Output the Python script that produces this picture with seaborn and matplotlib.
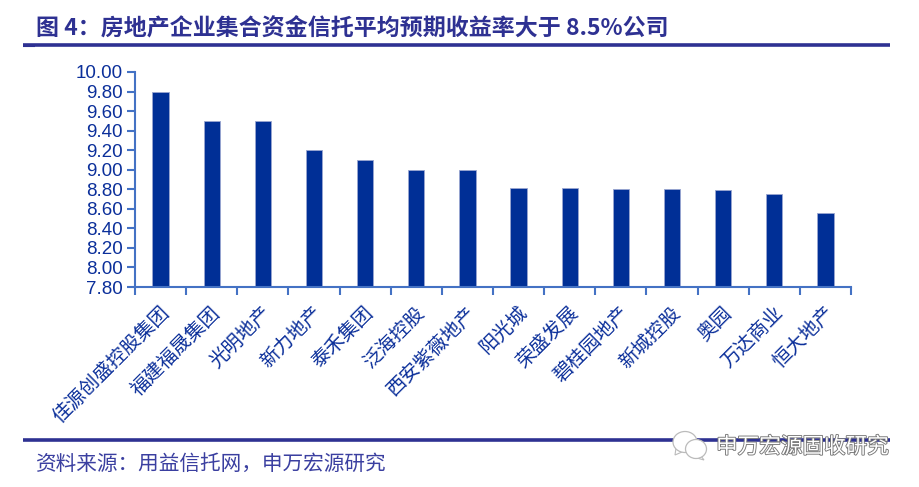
import matplotlib
matplotlib.use('Agg')
import matplotlib.pyplot as plt
import matplotlib.patheffects as pe
from matplotlib.patches import Ellipse, Polygon
from matplotlib.transforms import ScaledTranslation
import pandas as pd
import seaborn as sns

companies = ['佳源创盛控股集团', '福建福晟集团', '光明地产', '新力地产', '泰禾集团', '泛海控股', '西安紫薇地产',
             '阳光城', '荣盛发展', '碧桂园地产', '新城控股', '奥园', '万达商业', '恒大地产']
returns = [9.80, 9.50, 9.50, 9.20, 9.10, 9.00, 9.00, 8.81, 8.81, 8.80, 8.80, 8.79, 8.75, 8.56]
yticks = [7.8, 8.0, 8.2, 8.4, 8.6, 8.8, 9.0, 9.2, 9.4, 9.6, 9.8, 10.0]

title_text = '图 4：房地产企业集合资金信托平均预期收益率大于 8.5%公司'
source_text = '资料来源：用益信托网，申万宏源研究'
mark_text = '申万宏源固收研究'

sns.set_theme(style='white')
plt.rcParams['font.family'] = ['Noto Sans CJK SC', 'DejaVu Sans']

W, H = 919, 487
navy = '#2E3192'
bar_blue = '#002F96'
axis_blue = '#4472C4'
tick_blue = '#0B2F9A'

fig = plt.figure(figsize=(W / 100, H / 100), dpi=100)
ax = fig.add_axes([135 / W, 1 - 287 / H, (851 - 135) / W, (287 - 72) / H])

df = pd.DataFrame({'company': companies, 'value': returns})
sns.barplot(data=df, x='company', y='value', color=bar_blue, saturation=1, width=0.32,
            edgecolor='#9AA6D0', linewidth=0.6, ax=ax)
ax.set_xlim(-0.5, len(companies) - 0.5)
ax.set_ylim(7.8, 10.0)
ax.set_xlabel('')
ax.set_ylabel('')
ax.set_yticks(yticks)
ax.set_yticklabels([f'{v:.2f}' for v in yticks], family=['Liberation Sans'], fontsize=13.5, color=tick_blue)
ax.tick_params(axis='y', left=True, length=6, width=1.5, color=axis_blue, pad=3, direction='out')

# ticks sit between the categories, labels stay under the bars
ax.set_xticks([i - 0.5 for i in range(len(companies) + 1)], minor=True)
ax.tick_params(axis='x', which='minor', bottom=True, length=6, width=1.5, color=axis_blue)
ax.tick_params(axis='x', which='major', bottom=False, pad=5)
ax.set_xticks(range(len(companies)))
ax.set_xticklabels(companies, rotation=45, ha='right', rotation_mode='anchor', fontsize=14, color=tick_blue)
shift = ScaledTranslation(-2 / 100, 0, fig.dpi_scale_trans)
for lab in ax.get_xticklabels():
    lab.set_fontweight('light')
    lab.set_transform(lab.get_transform() + shift)

sns.despine(ax=ax)
for side in ['left', 'bottom']:
    ax.spines[side].set_color(axis_blue)
    ax.spines[side].set_linewidth(1.5)


def fx(px):
    return px / W


def fy(px):
    return 1 - px / H


fig.text(fx(36), fy(29), title_text, fontsize=16.55, fontweight='bold', color=navy, va='center', ha='left')
fig.add_artist(plt.Line2D([fx(23), fx(890)], [fy(44.5), fy(44.5)], color=navy, lw=2.6, solid_capstyle='butt'))
fig.add_artist(plt.Line2D([fx(23), fx(35)], [fy(46), fy(46)], color=navy, lw=1.5, solid_capstyle='butt'))
fig.add_artist(plt.Line2D([fx(23), fx(890)], [fy(440), fy(440)], color=navy, lw=2.6, solid_capstyle='butt'))
fig.text(fx(36), fy(464), source_text, fontsize=14.85, color='#3A3FA0', va='center', ha='left')

# watermark
bubbles = [(685, 442, 24, 21, [(676, 448), (675, 455), (682, 452)]),
           (696, 449, 21, 19, [(701, 456), (704, 460), (697, 458)])]
for cx, cy, w, h, tail in bubbles:
    fig.add_artist(Polygon([(fx(a), fy(b)) for a, b in tail], transform=fig.transFigure,
                           facecolor='white', edgecolor='#BBBBBB', lw=0.8, zorder=5))
    fig.add_artist(Ellipse((fx(cx), fy(cy)), w / W, h / H, transform=fig.transFigure,
                           facecolor='white', edgecolor='#BBBBBB', lw=0.9, zorder=5))
fig.text(fx(716), fy(447), mark_text, fontsize=15.55, color='white', va='center', ha='left', zorder=6,
         path_effects=[pe.withStroke(linewidth=1.3, foreground='#777777')])

fig.savefig('out.png', dpi=100)
